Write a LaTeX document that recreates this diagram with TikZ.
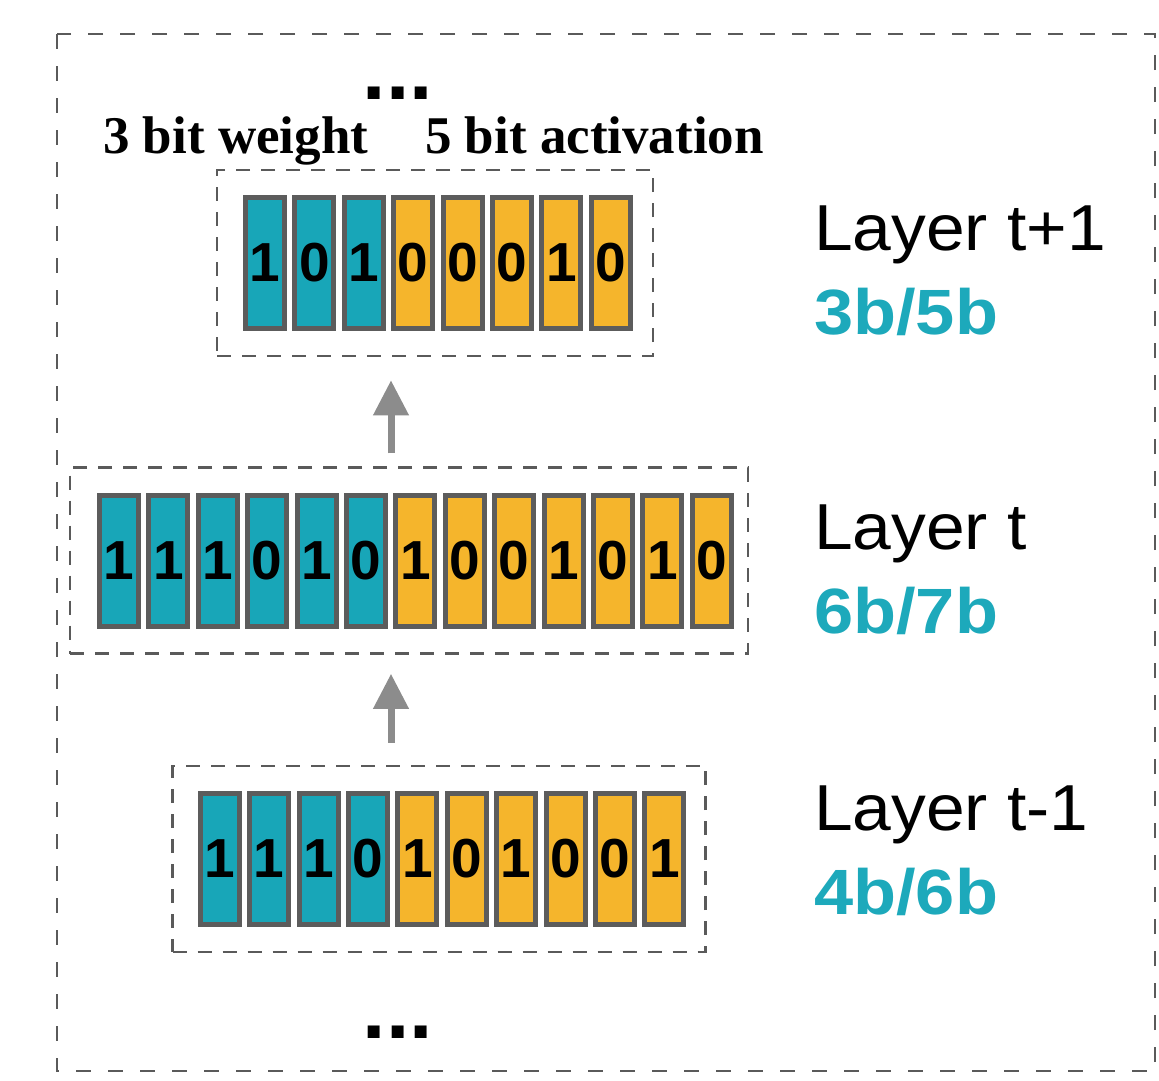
\documentclass[tikz,border=0pt]{standalone}
\usepackage{fontspec}
\setmainfont{Liberation Serif}
\setsansfont{Liberation Sans}
\usetikzlibrary{arrows.meta}

\definecolor{wteal}{HTML}{18A6B8}
\definecolor{aorange}{HTML}{F5B52C}
\definecolor{cellgray}{HTML}{5C5C5C}
\definecolor{dashgray}{HTML}{5A5A5A}
\definecolor{arrowgray}{HTML}{8C8C8C}
\definecolor{labelteal}{HTML}{1DA9BB}

% horizontally widened text for the side labels
\newcommand{\widelabel}[2]{\scalebox{#1}[1]{#2}}

\tikzset{
  bitcell/.style={draw=cellgray, line width=5pt, minimum width=39pt,
    minimum height=131pt, inner sep=0pt,
    font=\sffamily\bfseries\fontsize{55}{55}\selectfont},
  groupbox/.style={draw=dashgray, line width=2.5pt,
    dash pattern=on 14pt off 11pt, inner sep=0pt},
  flow/.style={draw=arrowgray, line width=7pt,
    -{Triangle[length=35pt,width=34pt]}},
  layername/.style={anchor=base west, inner sep=0pt,
    font=\sffamily\fontsize{65}{70}\selectfont},
  bitwidth/.style={anchor=base west, inner sep=0pt, text=labelteal,
    font=\sffamily\bfseries\fontsize{64}{70}\selectfont},
  partname/.style={anchor=base west, inner sep=0pt,
    font=\rmfamily\bfseries\fontsize{53}{60}\selectfont},
  more/.style={anchor=base, inner sep=0pt,
    font=\sffamily\bfseries\fontsize{84}{90}\selectfont}
}

\begin{document}
\begin{tikzpicture}[x=1pt, y=-1pt]
\useasboundingbox (0,0) rectangle (1159,1080);

% outer frame
\draw[draw=dashgray, line width=2.8pt, dash pattern=on 15pt off 17pt]
  (57,34) rectangle (1155,1071);

% layer t+1: 3 weight bits, 5 activation bits
\node[groupbox, minimum width=436pt, minimum height=186pt] (g1) at (435,263) {};
\foreach \b [count=\i from 0] in {1,0,1,0,0,0,1,0} {
  \ifnum\i<3 \def\cellfill{wteal}\else\def\cellfill{aorange}\fi
  \node[bitcell, fill=\cellfill] (r1c\i) at ({265+49.4*\i},263) {\b};
}

% layer t: 6 weight bits, 7 activation bits
\node[groupbox, minimum width=678pt, minimum height=186pt] (g2) at (409,560.5) {};
\foreach \b [count=\i from 0] in {1,1,1,0,1,0,1,0,0,1,0,1,0} {
  \ifnum\i<6 \def\cellfill{wteal}\else\def\cellfill{aorange}\fi
  \node[bitcell, fill=\cellfill] (r2c\i) at ({119+49.4*\i},560.5) {\b};
}

% layer t-1: 4 weight bits, 6 activation bits
\node[groupbox, minimum width=533pt, minimum height=186pt] (g3) at (439,859) {};
\foreach \b [count=\i from 0] in {1,1,1,0,1,0,1,0,0,1} {
  \ifnum\i<4 \def\cellfill{wteal}\else\def\cellfill{aorange}\fi
  \node[bitcell, fill=\cellfill] (r3c\i) at ({219.7+49.4*\i},859) {\b};
}

% flow between layers
\coordinate (ax) at (391,0);
\draw[flow, shorten <=22pt, shorten >=19pt] (g3.north -| ax) -- (g2.south -| ax);
\draw[flow, shorten <=13pt, shorten >=23pt] (g2.north -| ax) -- (g1.south -| ax);

% headings
\node[partname] (wlabel) at (103,153) {3 bit weight};
\node[partname] (alabel) at (425,153) {5 bit activation};
\node[more] (dotstop) at (398,99) {...};
\node[more] (dotsbot) at (398,1038) {...};

% layer names and bit widths
\node[layername] (n1) at (814,250) {\widelabel{1.07}{Layer t+1}};
\node[bitwidth] (b1) at (814,334) {\widelabel{1.1}{3b/5b}};
\node[layername] (n2) at (814,549) {\widelabel{1.07}{Layer t}};
\node[bitwidth] (b2) at (814,633) {\widelabel{1.1}{6b/7b}};
\node[layername] (n3) at (814,830) {\widelabel{1.07}{Layer t-1}};
\node[bitwidth] (b3) at (814,914) {\widelabel{1.1}{4b/6b}};
\end{tikzpicture}
\end{document}
